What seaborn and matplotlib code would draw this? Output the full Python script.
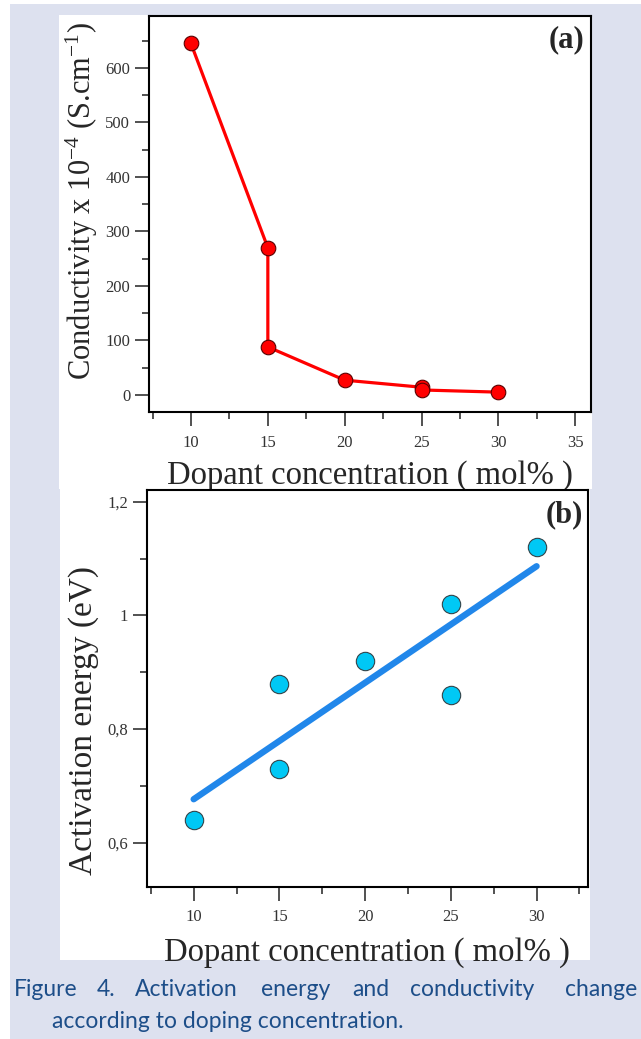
import seaborn as sns
import matplotlib.pyplot as plt
import pandas as pd
import numpy as np
from matplotlib.patches import Rectangle
from matplotlib.ticker import MultipleLocator, FixedLocator, FixedFormatter

# -------------------
# Data
# -------------------
dopant_a = [10, 15, 15, 20, 25, 25, 30]
conductivity = [645, 270, 88, 27, 14, 9, 5]

dopant_b = [10, 15, 15, 20, 25, 25, 30]
activation_energy = [0.64, 0.88, 0.73, 0.92, 1.02, 0.86, 1.12]

x_ticks_a = [10, 15, 20, 25, 30, 35]
y_ticks_a = [0, 100, 200, 300, 400, 500, 600]
x_ticks_b = [10, 15, 20, 25, 30]
y_ticks_b = [0.6, 0.8, 1.0, 1.2]
y_tick_labels_b = ["0,6", "0,8", "1", "1,2"]

caption_words = ["Figure", "4.", "Activation", "energy", "and", "conductivity", "change"]
caption_line2 = "according to doping concentration."

df_a = pd.DataFrame({"Dopant": dopant_a, "Conductivity": conductivity})
df_b = pd.DataFrame({"Dopant": dopant_b, "Ea": activation_energy})

# -------------------
# Styling
# -------------------
sns.set_style("ticks")
plt.rcParams["font.family"] = ["Liberation Serif", "DejaVu Serif"]
plt.rcParams["mathtext.fontset"] = "custom"
plt.rcParams["mathtext.rm"] = "Liberation Serif"
plt.rcParams["mathtext.it"] = "Liberation Serif:italic"

W, H = 641, 1039
fig = plt.figure(figsize=(W / 100, H / 100), dpi=100, facecolor="white")

# lavender page + white panels behind the axes
fig.add_artist(Rectangle((10 / W, 0), 1 - 10 / W, 1 - 4 / H, transform=fig.transFigure,
                         facecolor="#dde1ef", edgecolor="none", zorder=-3))
fig.add_artist(Rectangle((59 / W, 1 - 489 / H), 533 / W, 474 / H, transform=fig.transFigure,
                         facecolor="white", edgecolor="none", zorder=-2))
fig.add_artist(Rectangle((60 / W, 1 - 960 / H), 530 / W, 471 / H, transform=fig.transFigure,
                         facecolor="white", edgecolor="none", zorder=-2))

ax_a = fig.add_axes([149 / W, 1 - 412.3 / H, 441.7 / W, 396.6 / H])
ax_b = fig.add_axes([146.7 / W, 1 - 886.7 / H, 441.3 / W, 396.7 / H])

# -------------------
# (a) conductivity
# -------------------
sns.lineplot(data=df_a, x="Dopant", y="Conductivity", sort=False, estimator=None,
             color="#ff0000", linewidth=2.3, marker="o", markersize=10.5,
             markerfacecolor="#ff0000", markeredgecolor="#5a0000", markeredgewidth=0.8,
             ax=ax_a)
ax_a.set_xlim(7.27, 36.0)
ax_a.set_ylim(-32, 696)
ax_a.xaxis.set_major_locator(FixedLocator(x_ticks_a))
ax_a.xaxis.set_minor_locator(MultipleLocator(2.5))
ax_a.yaxis.set_major_locator(FixedLocator(y_ticks_a))
ax_a.yaxis.set_minor_locator(MultipleLocator(50))
ax_a.set_xlabel("Dopant concentration ( mol% )", fontsize=23.5)
ax_a.set_ylabel(r"Conductivity x 10$^{-4}$ (S.cm$^{-1}$)", fontsize=22)
ax_a.text(0.985, 0.975, "(a)", transform=ax_a.transAxes, ha="right", va="top",
          fontsize=22, fontweight="bold")

# -------------------
# (b) activation energy
# -------------------
sns.regplot(data=df_b, x="Dopant", y="Ea", ci=None, ax=ax_b,
            scatter_kws=dict(s=175, color="#00c8f5", edgecolor="#33444a", linewidths=0.8,
                             alpha=1, zorder=3),
            line_kws=dict(color="#2187ea", linewidth=4.6, solid_capstyle="round", zorder=2))
ax_b.set_xlim(7.26, 33.0)
ax_b.set_ylim(0.5225, 1.2206)
ax_b.xaxis.set_major_locator(FixedLocator(x_ticks_b))
ax_b.xaxis.set_minor_locator(MultipleLocator(2.5))
ax_b.yaxis.set_major_locator(FixedLocator(y_ticks_b))
ax_b.yaxis.set_major_formatter(FixedFormatter(y_tick_labels_b))
ax_b.yaxis.set_minor_locator(MultipleLocator(0.1))
ax_b.set_xlabel("Dopant concentration ( mol% )", fontsize=23.5)
ax_b.set_ylabel("Activation energy (eV)", fontsize=24)
ax_b.text(0.988, 0.975, "(b)", transform=ax_b.transAxes, ha="right", va="top",
          fontsize=22, fontweight="bold")

# common axis cosmetics
for ax in (ax_a, ax_b):
    ax.set_facecolor("white")
    for sp in ax.spines.values():
        sp.set_visible(True)
        sp.set_linewidth(1.5)
        sp.set_color("black")
    ax.tick_params(which="major", direction="out", length=10, width=1.1,
                   labelsize=12, labelcolor="#333333", color="#222222")
    ax.tick_params(which="minor", direction="out", length=5, width=1.1, color="#222222")
    ax.tick_params(axis="x", which="major", pad=6)
    ax.grid(False)

ax_a.yaxis.set_label_coords(-0.112, 0.533)
ax_a.xaxis.set_label_coords(0.5, -0.12)
ax_b.yaxis.set_label_coords(-0.108, 0.42)
ax_b.xaxis.set_label_coords(0.5, -0.128)

# -------------------
# Caption
# -------------------
cap_color = "#1d4e89"
word_x = [14, 97, 135, 261, 352, 410]
for wx, word in zip(word_x, caption_words[:-1]):
    fig.text(wx / W, 1 - 990 / H, word, ha="left", va="center", fontsize=16.5,
             color=cap_color, family=["Lato", "DejaVu Sans"])
fig.text(637 / W, 1 - 990 / H, caption_words[-1], ha="right", va="center", fontsize=16.5,
         color=cap_color, family=["Lato", "DejaVu Sans"])
fig.text(52 / W, 1 - 1022 / H, caption_line2, ha="left", va="center", fontsize=16.5,
         color=cap_color, family=["Lato", "DejaVu Sans"])

plt.savefig("out.png", dpi=100)
plt.close()
